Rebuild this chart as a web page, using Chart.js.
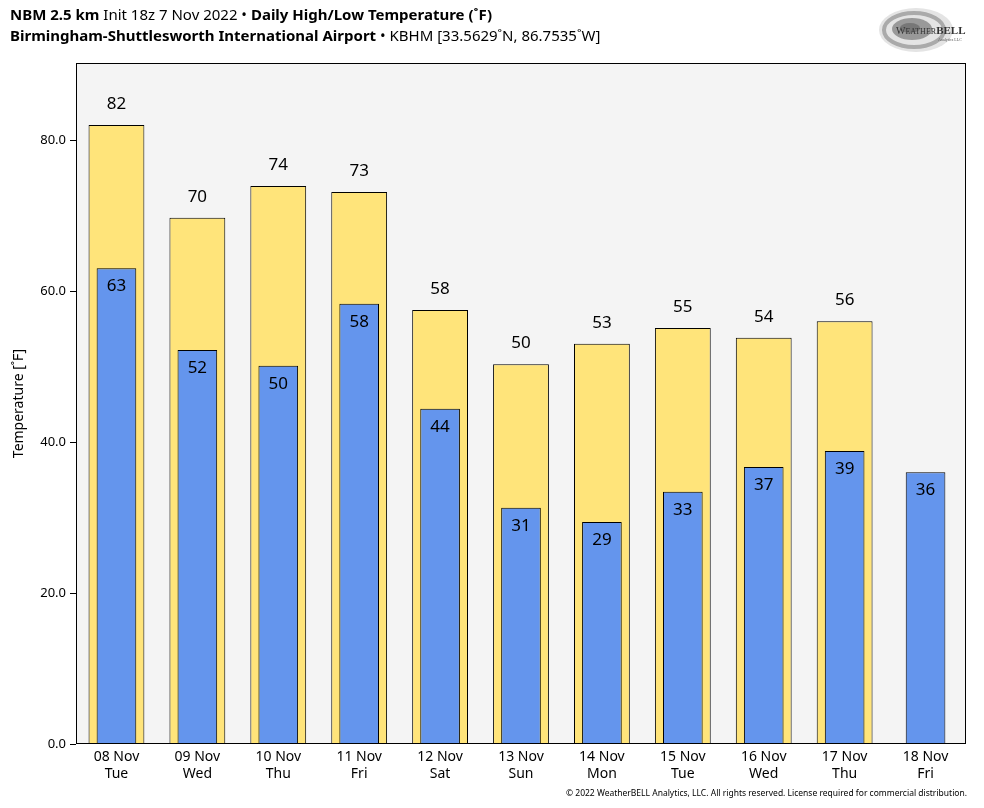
<!DOCTYPE html>
<html lang="en">
<head>
  <meta charset="UTF-8">
  <title>NBM Daily High/Low Temperature</title>
  <script src="https://cdn.jsdelivr.net/npm/chart.js"></script>
</head>
<style>
  body { margin: 0; background: #fff; font-family: "Noto Sans", sans-serif; }
  .wrap { position: relative; width: 984px; height: 808px; }
  .title { position: absolute; left: 10px; font-size: 15px; color: #000; white-space: nowrap; }
  .title b { font-weight: bold; }
  .t1 { top: 4px; }
  .t2 { top: 25px; }
  .logo { position: absolute; left: 876px; top: 4px; }
  .footer { position: absolute; right: 17px; top: 787px; font-size: 8.5px; color: #000; }
  canvas { position: absolute; left: 0; top: 0; }
</style>
<body>

<div class="wrap">
  <canvas id="tempChart" width="984" height="808"></canvas>
  <div class="title t1"><b>NBM 2.5 km</b> Init 18z 7 Nov 2022 &bull; <b>Daily High/Low Temperature (˚F)</b></div>
  <div class="title t2"><b>Birmingham-Shuttlesworth International Airport</b> &bull; KBHM [33.5629˚N, 86.7535˚W]</div>
  <svg class="logo" width="94" height="52" viewBox="0 0 94 52">
    <ellipse cx="40" cy="26" rx="37" ry="22" fill="#e4e4e4"/>
    <ellipse cx="38" cy="26" rx="30" ry="17" fill="none" stroke="#aaa" stroke-width="4"/>
    <ellipse cx="36" cy="25" rx="20" ry="11" fill="#999"/>
    <ellipse cx="34" cy="24" rx="10" ry="5" fill="#777"/>
    <text x="20" y="30" font-family="Liberation Serif, serif" font-size="10" fill="#333">W<tspan font-size="8">EATHER</tspan><tspan font-size="11" font-weight="bold">BELL</tspan></text>
    <text x="62" y="37" font-family="Liberation Serif, serif" font-size="4" fill="#555">Analytics LLC</text>
  </svg>
  <div class="footer">© 2022 WeatherBELL Analytics, LLC. All rights reserved. License required for commercial distribution.</div>
</div>

<script>
  // Values
  const dates = ['08 Nov', '09 Nov', '10 Nov', '11 Nov', '12 Nov', '13 Nov', '14 Nov', '15 Nov', '16 Nov', '17 Nov', '18 Nov'];
  const weekdays = ['Tue', 'Wed', 'Thu', 'Fri', 'Sat', 'Sun', 'Mon', 'Tue', 'Wed', 'Thu', 'Fri'];
  const highTemps = [82.0, 69.7, 73.9, 73.1, 57.5, 50.3, 53.0, 55.1, 53.8, 56.0, null];
  const lowTemps = [63.0, 52.2, 50.1, 58.3, 44.4, 31.3, 29.4, 33.4, 36.7, 38.8, 36.0];
  const yTicks = [0, 20, 40, 60, 80];

  const labels = dates.map((d, i) => [d, weekdays[i]]);

  // plot background and frame
  const frame = {
    id: 'frame',
    beforeDraw(chart) {
      const a = chart.chartArea, ctx = chart.ctx;
      ctx.save();
      ctx.fillStyle = '#f4f4f4';
      ctx.fillRect(a.left, a.top, a.right - a.left, a.bottom - a.top);
      ctx.restore();
    },
    afterDraw(chart) {
      const a = chart.chartArea, ctx = chart.ctx;
      ctx.save();
      ctx.strokeStyle = '#000';
      ctx.lineWidth = 1;
      ctx.strokeRect(a.left + 0.5, a.top + 0.5, a.right - a.left - 1, a.bottom - a.top - 1);
      ctx.restore();
    }
  };

  // value labels: highs above the bar, lows inside near the top
  const valueLabels = {
    id: 'valueLabels',
    afterDatasetsDraw(chart) {
      const ctx = chart.ctx;
      ctx.save();
      ctx.font = '17px "Noto Sans"';
      ctx.fillStyle = '#000';
      ctx.textAlign = 'center';
      ctx.textBaseline = 'middle';
      chart.data.datasets.forEach((ds, i) => {
        chart.getDatasetMeta(i).data.forEach((bar, j) => {
          const v = ds.data[j];
          if (v === null) return;
          const dy = ds.label === 'High' ? -21 : 18;
          ctx.fillText(Math.round(v), bar.x, bar.y + dy);
        });
      });
      ctx.restore();
    }
  };

  const ctx = document.getElementById('tempChart').getContext('2d');
  const tempChart = new Chart(ctx, {
    type: 'bar',
    data: {
      labels: labels,
      datasets: [
        {
          label: 'Low',
          data: lowTemps,
          backgroundColor: '#6495ed',
          borderColor: '#000',
          borderWidth: 1,
          barPercentage: 0.49,
          categoryPercentage: 1,
          grouped: false,
          order: 0
        },
        {
          label: 'High',
          data: highTemps,
          backgroundColor: '#ffe47a',
          borderColor: '#000',
          borderWidth: 1,
          barPercentage: 0.69,
          categoryPercentage: 1,
          grouped: false,
          order: 1
        }
      ]
    },
    options: {
      responsive: false,
      animation: false,
      layout: { padding: { top: 63, right: 18, left: 0, bottom: 0 } },
      plugins: {
        legend: { display: false },
        tooltip: { enabled: false }
      },
      scales: {
        x: {
          grid: { display: false },
          border: { display: false },
          ticks: { color: '#000', font: { family: 'Noto Sans', size: 14 }, padding: -3, maxRotation: 0 },
          afterFit(scale) { scale.height = 64; }
        },
        y: {
          min: 0,
          max: 90.2,
          afterBuildTicks(scale) { scale.ticks = yTicks.map(v => ({ value: v })); },
          grid: { drawOnChartArea: false, drawTicks: true, tickLength: 6, color: '#000' },
          border: { display: false },
          ticks: {
            color: '#000',
            font: { family: 'Noto Sans', size: 13 },
            padding: 4,
            callback: v => v.toFixed(1)
          },
          title: {
            display: true,
            text: 'Temperature [˚F]',
            color: '#000',
            font: { family: 'Noto Sans', size: 14 },
            padding: { top: 11, bottom: 0 }
          },
          afterFit(scale) { scale.width = 76; }
        }
      }
    },
    plugins: [frame, valueLabels]
  });
</script>
</body>
</html>
